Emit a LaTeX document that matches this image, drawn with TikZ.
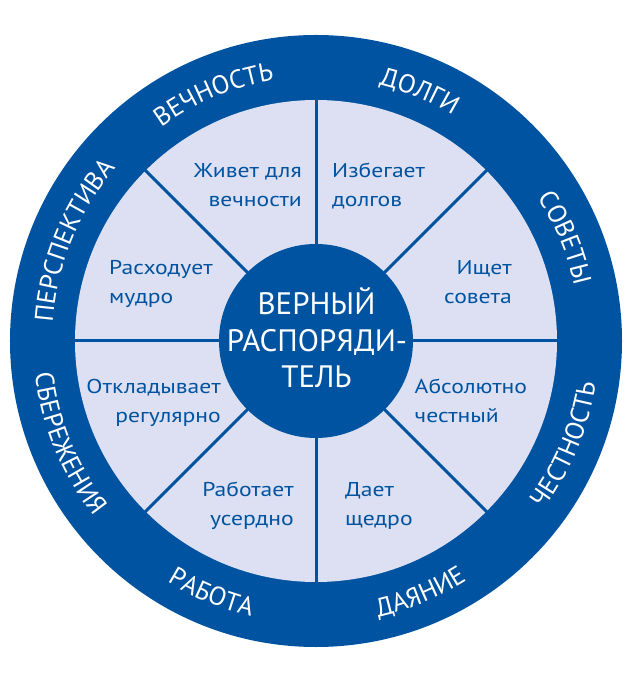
\documentclass[tikz,border=0pt]{standalone}
\usepackage{fontspec}
\setmainfont{PT Sans}
\newfontfamily\innerfont[FakeStretch=1.18]{PT Sans}
\usetikzlibrary{decorations.text}
\definecolor{wblue}{RGB}{0,83,160}
\definecolor{wlav}{RGB}{221,224,242}
\newcommand\ringfont{\fontsize{26}{26}\selectfont}
\tikzset{
  ringlbl/.style={decorate, decoration={text along path, text align=center, text color=white, text={#1}}},
  intext/.style={text=wblue, font=\innerfont\fontsize{20}{20}\selectfont, inner sep=0pt},
  ctext/.style={text=white, font=\fontsize{31}{31}\selectfont, inner sep=0pt, anchor=base},
  spoke/.style={draw=wblue, line width=3pt}
}
\begin{document}
\begin{tikzpicture}
\useasboundingbox (-316pt,-343pt) rectangle (320pt,341pt);
% rings
\fill[wblue] (0,0) circle[radius=306pt];
\fill[wlav] (0,0) circle[radius=241pt];
\foreach \a in {0,45,...,315} \draw[spoke] (\a:90pt) -- (\a:242pt);
\fill[wblue] (0,0) circle[radius=97pt];
% ring labels, top half (clockwise)
\path[ringlbl={|\ringfont|ВЕЧНОСТЬ}] (162.5:264pt) arc[start angle=162.5, end angle=62.5, radius=264pt];
\path[ringlbl={|\ringfont|ДОЛГИ}] (117.5:264pt) arc[start angle=117.5, end angle=17.5, radius=264pt];
\path[ringlbl={|\ringfont|СОВЕТЫ}] (72.5:264pt) arc[start angle=72.5, end angle=-27.5, radius=264pt];
\path[ringlbl={|\ringfont|ПЕРСПЕКТИВА}] (207.5:264pt) arc[start angle=207.5, end angle=107.5, radius=264pt];
% ring labels, bottom half (counter-clockwise)
\path[ringlbl={|\ringfont|ЧЕСТНОСТЬ}] (-72.5:283pt) arc[start angle=-72.5, end angle=27.5, radius=283pt];
\path[ringlbl={|\ringfont|ДАЯНИЕ}] (-117.5:283pt) arc[start angle=-117.5, end angle=-17.5, radius=283pt];
\path[ringlbl={|\ringfont|РАБОТА}] (-162.5:283pt) arc[start angle=-162.5, end angle=-62.5, radius=283pt];
\path[ringlbl={|\ringfont|СБЕРЕЖЕНИЯ}] (-207.5:283pt) arc[start angle=-207.5, end angle=-107.5, radius=283pt];
% inner texts
\node[intext, anchor=base east] (t1a) at (-14pt,163pt) {Живет для};
\node[intext, anchor=base east] (t1b) at (-14pt,134pt) {вечности};
\node[intext, anchor=base west] (t2a) at (16pt,163pt) {Избегает};
\node[intext, anchor=base west] (t2b) at (16pt,134pt) {долгов};
\node[intext, anchor=base west] (t3a) at (-207pt,66pt) {Расходует};
\node[intext, anchor=base west] (t3b) at (-207pt,37.5pt) {мудро};
\node[intext, anchor=base east] (t4a) at (196pt,66pt) {Ищет};
\node[intext, anchor=base east] (t4b) at (196pt,37.5pt) {совета};
\node[intext, anchor=base east] (t5a) at (-95pt,-53pt) {Откладывает};
\node[intext, anchor=base east] (t5b) at (-95pt,-81.5pt) {регулярно};
\node[intext, anchor=base west] (t6a) at (98.5pt,-53pt) {Абсолютно};
\node[intext, anchor=base west] (t6b) at (98.5pt,-81.5pt) {честный};
\node[intext, anchor=base east] (t7a) at (-22pt,-155.5pt) {Работает};
\node[intext, anchor=base east] (t7b) at (-22pt,-184pt) {усердно};
\node[intext, anchor=base west] (t8a) at (29pt,-155.5pt) {Дает};
\node[intext, anchor=base west] (t8b) at (29pt,-184pt) {щедро};
% centre
\node[ctext] (c1) at (0.5pt,26pt) {ВЕРНЫЙ};
\node[ctext] (c2) at (1pt,-11pt) {РАСПОРЯДИ-};
\node[ctext] (c3) at (0.5pt,-47pt) {ТЕЛЬ};
\end{tikzpicture}
\end{document}
